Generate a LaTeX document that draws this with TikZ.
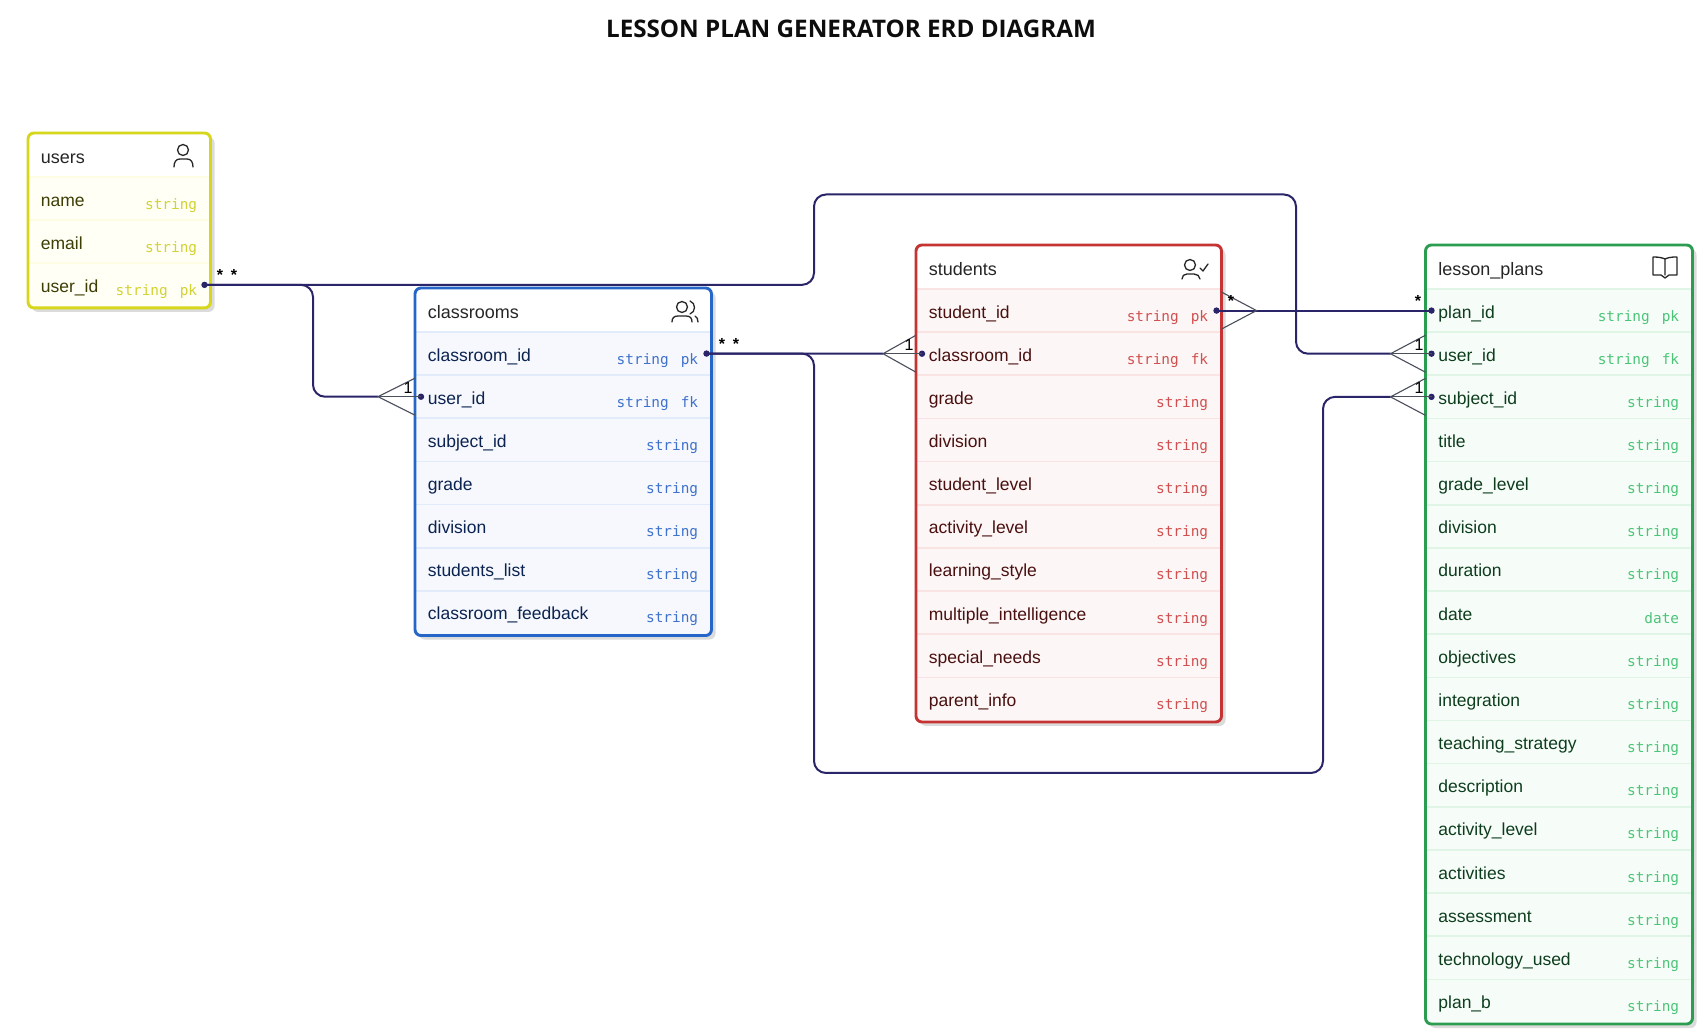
\documentclass[tikz,border=0pt]{standalone}
\usepackage{fontspec}
\setmainfont{Liberation Sans}
\setmonofont{DejaVu Sans Mono}
\newfontfamily\titlefont{Open Sans}
\usetikzlibrary{calc}
\definecolor{ub}{HTML}{D6D61A}\definecolor{uf}{HTML}{FFFFF6}\definecolor{ul}{HTML}{FDFDE4}\definecolor{ut}{HTML}{3D3D05}\definecolor{uy}{HTML}{D2D234}
\definecolor{cb}{HTML}{2566C8}\definecolor{cf}{HTML}{F6F8FD}\definecolor{cl}{HTML}{E2EBF9}\definecolor{ct}{HTML}{0B2350}\definecolor{cy}{HTML}{3F72CC}
\definecolor{sb}{HTML}{C63333}\definecolor{sf}{HTML}{FDF6F6}\definecolor{sl}{HTML}{F9E3E3}\definecolor{st}{HTML}{4A1010}\definecolor{sy}{HTML}{D0504F}
\definecolor{lb}{HTML}{2A9D50}\definecolor{lf}{HTML}{F6FDF8}\definecolor{ll}{HTML}{E0F5E6}\definecolor{lt}{HTML}{0E3D1E}\definecolor{ly}{HTML}{4CC478}
\definecolor{navy}{HTML}{2A2468}\definecolor{crow}{HTML}{4A4F5C}
\tikzset{
  conn/.style={draw=navy,line width=1pt,rounded corners=6pt},
  crowline/.style={draw=crow,line width=.55pt},
  dotn/.style={circle,fill=navy,inner sep=0pt,minimum size=3.2pt},
  fieldname/.style={anchor=base west,inner sep=0pt,font=\fontsize{8.75}{10}\selectfont},
  fieldtype/.style={anchor=base east,inner sep=0pt,font=\ttfamily\fontsize{7.2}{10}\selectfont},
  tabletitle/.style={anchor=base west,inner sep=0pt,text=black!85,font=\fontsize{9}{10}\selectfont},
  mark1/.style={inner sep=0pt,font=\fontsize{8}{8}\selectfont},
  markstar/.style={inner sep=0pt,font=\bfseries\fontsize{8}{8}\selectfont},
  icon/.style={draw=black!85,line width=.65pt,line cap=round,line join=round},
}
% #1 prefix, #2 x left, #3 x right, #4 y top, #5 title, #6 rows, #7 list of name/type
\newcommand{\erdtable}[7]{
  \pgfmathsetmacro{\hdr}{#4+44}
  \pgfmathsetmacro{\bot}{\hdr+#6*43.15+1.5}
  \fill[black!14,rounded corners=3pt] (#2+4,#4+4) rectangle (#3+4,\bot+4);
  \fill[white,rounded corners=3pt] (#2,#4) rectangle (#3,\bot);
  \fill[#1f,rounded corners=3pt] (#2,\hdr) rectangle (#3,\bot);
  \fill[#1f] (#2,\hdr) rectangle (#3,\hdr+6);
  \node[tabletitle] (#1-title) at (#2+12.5,#4+31) {#5};
  \foreach \nm/\ty [count=\i] in {#7}{
    \pgfmathsetmacro{\yc}{\hdr+(\i-.5)*43.15}
    \pgfmathsetmacro{\yl}{\hdr+(\i-1)*43.15}
    \draw[#1l,line width=.8pt] (#2,\yl) -- (#3,\yl);
    \node[fieldname,text=#1t] (#1-n\i) at (#2+12.5,\yc+7.5) {\nm};
    \node[fieldtype,text=#1y] (#1-t\i) at (#3-13,\yc+10.5) {\ty};
    \coordinate (#1-l\i) at (#2,\yc);
    \coordinate (#1-r\i) at (#3,\yc);
  }
  \draw[#1b,line width=1.45pt,rounded corners=3pt] (#2,#4) rectangle (#3,\bot);
}
\newcommand{\PK}{string\hspace{6pt}pk}
\newcommand{\FK}{string\hspace{6pt}fk}
\begin{document}
\begin{tikzpicture}[x=.5pt,y=-.5pt]
\useasboundingbox[fill=white] (0,0) rectangle (1704,1036);
\node[inner sep=0pt,font=\titlefont\bfseries\fontsize{12.1}{14}\selectfont,text=black!95] (title) at (851,29) {LESSON PLAN GENERATOR ERD DIAGRAM};

\erdtable{u}{28}{210.5}{133}{users}{3}{name/string,email/string,user\_id/\PK}
\erdtable{c}{415}{711.5}{288}{classrooms}{7}{classroom\_id/\PK,user\_id/\FK,subject\_id/string,grade/string,division/string,students\_list/string,classroom\_feedback/string}
\erdtable{s}{916}{1221.5}{245}{students}{10}{student\_id/\PK,classroom\_id/\FK,grade/string,division/string,student\_level/string,activity\_level/string,learning\_style/string,multiple\_intelligence/string,special\_needs/string,parent\_info/string}
\erdtable{l}{1425.5}{1692.5}{245}{lesson\_plans}{17}{plan\_id/\PK,user\_id/\FK,subject\_id/string,title/string,grade\_level/string,division/string,duration/string,date/date,objectives/string,integration/string,teaching\_strategy/string,description/string,activity\_level/string,activities/string,assessment/string,technology\_used/string,plan\_b/string}

% dots
\node[dotn] (d-u) at ($(u-r3)+(-6,0)$) {};
\node[dotn] (d-cu) at ($(c-l2)+(6,0)$) {};
\node[dotn] (d-c) at ($(c-r1)+(-5,0)$) {};
\node[dotn] (d-sc) at ($(s-l2)+(6,0)$) {};
\node[dotn] (d-s) at ($(s-r1)+(-5,0)$) {};
\node[dotn] (d-lp) at ($(l-l1)+(6,0)$) {};
\node[dotn] (d-lu) at ($(l-l2)+(6,0)$) {};
\node[dotn] (d-ls) at ($(l-l3)+(6,0)$) {};

% crow's feet tips
\coordinate (t-cu) at ($(c-l2)+(-37,0)$);
\coordinate (t-sc) at ($(s-l2)+(-33,0)$);
\coordinate (t-lu) at ($(l-l2)+(-35,0)$);
\coordinate (t-ls) at ($(l-l3)+(-35,0)$);
\coordinate (t-s) at ($(s-r1)+(35,0)$);

% bends
\coordinate (b1) at (313,0);
\coordinate (b2) at (814,194.5);
\coordinate (b3) at (1296,194.5);
\coordinate (b4) at (814,773);
\coordinate (b5) at (1323,773);

% connectors
\draw[conn] (d-u.center) -| (b1 |- t-cu) -- (t-cu);
\draw[conn] (d-u.center) -| (b2) -- (b3) |- (t-lu);
\draw[conn] (d-c.center) -- (t-sc);
\draw[conn] (d-c.center) -| (b4) -- (b5) |- (t-ls);
\draw[conn] (d-s.center) -- (d-lp.center);

% crow's feet
\foreach \tip/\dt/\edge in {t-cu/d-cu/c-l2,t-sc/d-sc/s-l2,t-lu/d-lu/l-l2,t-ls/d-ls/l-l3}{
  \draw[crowline] (\tip) -- (\dt.center);
  \draw[crowline] ($(\edge)+(0,-18.5)$) -- (\tip) -- ($(\edge)+(0,18.5)$);
}
\draw[crowline] ($(s-r1)+(0,-18.5)$) -- (t-s) -- ($(s-r1)+(0,18.5)$);

% cardinality
\node[markstar] (m1) at (220,275) {*};
\node[markstar] (m2) at (234,275) {*};
\node[markstar] (m3) at (722,344) {*};
\node[markstar] (m4) at (736,344) {*};
\node[markstar] (m5) at (1231,301) {*};
\node[markstar] (m6) at (1418,301) {*};
\node[mark1] (o1) at (408,388) {1};
\node[mark1] (o2) at (909,345) {1};
\node[mark1] (o3) at (1419,345) {1};
\node[mark1] (o4) at (1419,388) {1};

% icons
\begin{scope}[icon]
  % users
  \draw (183,150) circle (5.5);
  \draw (174,167) .. controls (174,162) and (176,159) .. (180,159) -- (187,159) .. controls (191,159) and (193,162) .. (193,167);
  % classrooms
  \draw (682,307) circle (5.5);
  \draw (672,322) .. controls (672,318) and (674,316) .. (678,316) -- (686,316) .. controls (690,316) and (692,318) .. (692,322);
  \draw (690,301) .. controls (696,303) and (696,312) .. (690,314);
  \draw (695,316) .. controls (697,317) and (698,319) .. (698,322);
  % students
  \draw (1190,265) circle (5.5);
  \draw (1182,279) .. controls (1182,276) and (1184,274) .. (1187,274) -- (1194,274) .. controls (1197,274) and (1200,276) .. (1200,279);
  \draw (1200,268) -- (1203,271) -- (1208,264);
  % lesson_plans
  \draw (1665,275) -- (1665,259) .. controls (1663,258) and (1659,257) .. (1654,257) -- (1653,257) -- (1653,275) -- (1661,275) -- (1665,278) -- (1669,275) -- (1677,275) -- (1677,257) -- (1675,257) .. controls (1671,257) and (1667,258) .. (1665,259);
\end{scope}
\end{tikzpicture}
\end{document}
